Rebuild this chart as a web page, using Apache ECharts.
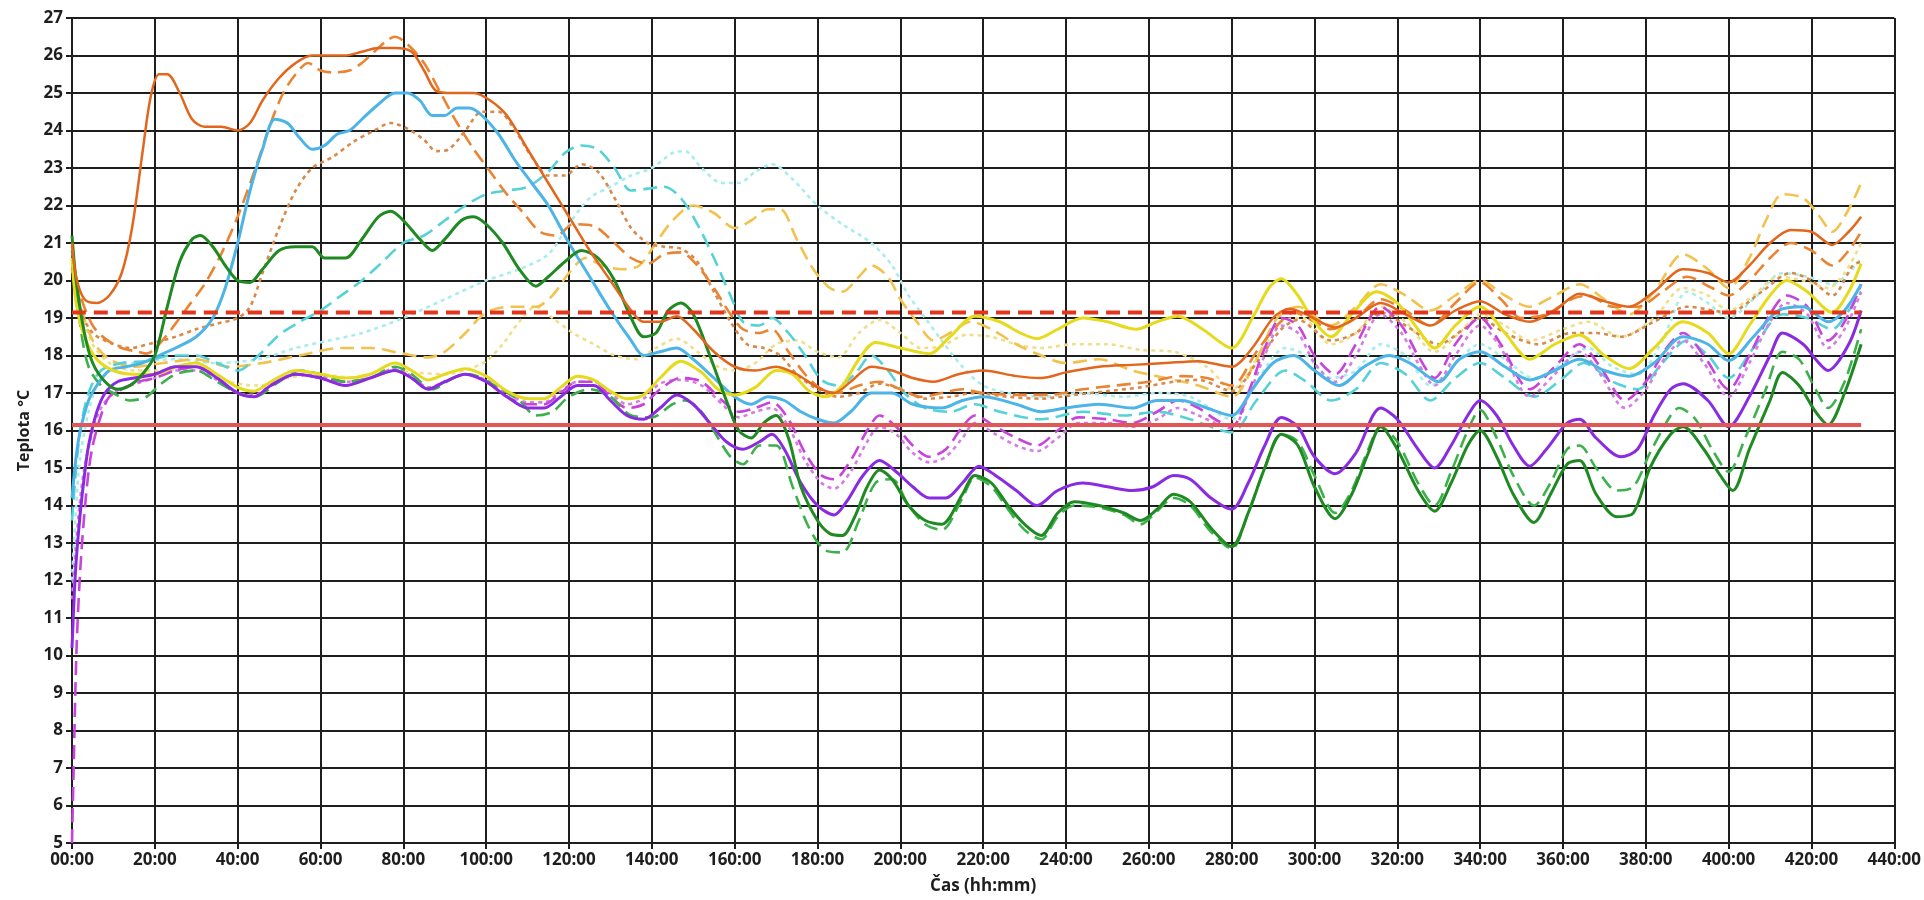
<!DOCTYPE html>
<html>
<head>
<meta charset="utf-8">
<script src="https://cdn.jsdelivr.net/npm/echarts@6/dist/echarts.min.js"></script>
<style>
  html, body { margin: 0; padding: 0; background: #fff; }
  #chart { width: 1924px; height: 900px; }
</style>
</head>
<body>
<div id="chart"></div>
<script>
// time in hours, temperature in °C
const orangeSolid = [[0,21.0],[1,20.1],[3,19.5],[6,19.4],[9,19.6],[12,20.2],[14.5,21.4],[17,23.4],[19,24.9],[21,25.5],[23,25.5],[26,25.0],[29,24.3],[32,24.1],[36,24.1],[40,24.0],[43,24.2],[46,24.8],[50,25.4],[54,25.8],[58,26.0],[62,26.0],[66,26.0],[70,26.1],[74,26.2],[78,26.2],[82,26.1],[85,25.6],[88,25.05],[92,25.0],[97,25.0],[101,24.8],[105,24.4],[110,23.5],[115,22.6],[120,21.7],[125,20.8],[130,20.0],[135,19.2],[138,18.9],[142,18.9],[146,19.05],[150,18.7],[155,18.1],[160,17.7],[165,17.6],[170,17.7],[175,17.5],[180,17.15],[184,17.0],[188,17.3],[193,17.7],[198,17.6],[203,17.4],[208,17.3],[214,17.5],[220,17.6],[228,17.45],[234,17.4],[240,17.55],[248,17.7],[256,17.75],[264,17.8],[272,17.85],[280,17.7],[285,18.2],[290,19.0],[294,19.25],[298,19.1],[305,18.75],[310,19.0],[316,19.4],[322,19.1],[328,18.8],[334,19.2],[340,19.45],[346,19.1],[352,18.9],[358,19.2],[364,19.65],[370,19.45],[376,19.3],[382,19.7],[389,20.3],[395,20.2],[400,19.95],[405,20.4],[410,21.0],[415,21.35],[420,21.3],[425,20.95],[429,21.3],[432,21.7]];
const orangeDash = [[0,20.6],[2,19.6],[5,18.8],[8,18.45],[12,18.2],[16,18.1],[18,18.05],[21,18.3],[24,18.7],[28,19.3],[32,19.9],[36,20.7],[40,21.7],[44,22.9],[48,24.2],[51,25.0],[54,25.5],[57,25.8],[60,25.6],[63,25.55],[67,25.6],[70,25.8],[73,26.1],[76,26.4],[78,26.5],[81,26.3],[85,25.8],[89,25.0],[93,24.2],[97,23.5],[101,22.9],[105,22.3],[109,21.8],[113,21.3],[117,21.2],[121,21.5],[126,21.45],[131,21.0],[135,20.6],[139,20.45],[143,20.7],[147,20.75],[151,20.4],[155,19.8],[159,19.1],[162,18.7],[166,18.6],[169,18.7],[173,18.1],[177,17.5],[181,17.1],[185,17.0],[190,17.2],[195,17.3],[200,17.1],[205,16.9],[210,17.0],[215,17.1],[220,17.0],[228,16.95],[236,16.95],[244,17.1],[252,17.2],[260,17.3],[268,17.45],[274,17.4],[280,17.2],[286,18.1],[291,18.8],[295,19.15],[300,18.9],[304,18.7],[310,19.0],[316,19.5],[322,19.2],[328,18.8],[334,19.4],[340,19.95],[345,19.5],[350,19.0],[356,19.1],[362,19.5],[366,19.6],[372,19.3],[378,19.3],[384,19.7],[390,20.1],[396,19.8],[400,19.6],[405,20.0],[410,20.6],[415,21.0],[420,20.8],[425,20.4],[429,20.8],[432,21.3]];
const orangeDot = [[0,20.3],[2,19.2],[5,18.6],[9,18.35],[14,18.2],[20,18.35],[25,18.5],[30,18.7],[35,18.85],[40,19.0],[43,19.3],[46,20.2],[50,21.4],[54,22.4],[58,23.0],[63,23.3],[68,23.7],[73,24.0],[77,24.2],[81,24.05],[85,23.75],[88,23.45],[91,23.5],[95,24.0],[99,24.5],[103,24.5],[107,24.0],[111,23.3],[115,22.8],[119,22.8],[123,23.1],[127,22.9],[131,22.2],[135,21.4],[139,21.0],[143,20.9],[147,20.85],[151,20.5],[155,19.7],[159,18.9],[163,18.3],[167,18.2],[171,18.0],[175,17.5],[180,17.1],[185,16.9],[190,17.0],[195,17.25],[200,17.1],[206,16.85],[212,16.9],[218,17.0],[226,16.9],[234,16.85],[242,16.95],[250,17.05],[258,17.15],[266,17.3],[272,17.35],[280,17.05],[286,17.8],[292,18.7],[296,18.95],[304,18.4],[310,18.6],[316,19.15],[322,18.8],[330,18.3],[336,18.7],[340,19.0],[346,18.6],[354,18.3],[362,18.6],[368,18.6],[374,18.5],[382,18.9],[390,19.3],[400,19.15],[408,19.7],[415,20.2],[420,20.0],[425,19.6],[430,20.4],[432,20.5]];
const blueSolid = [[0,14.2],[1,15.3],[2,16.0],[4,16.8],[6,17.2],[9,17.6],[13,17.7],[17,17.8],[21,18.0],[25,18.2],[30,18.5],[34,19.0],[37,19.8],[40,21.0],[43,22.4],[46,23.5],[49,24.3],[52,24.2],[55,23.8],[58,23.5],[61,23.6],[64,23.9],[67,24.0],[70,24.3],[74,24.7],[78,25.0],[81,25.0],[84,24.8],[87,24.4],[90,24.4],[93,24.6],[96,24.6],[99,24.4],[103,23.9],[107,23.2],[111,22.6],[115,22.0],[120,21.0],[125,20.1],[130,19.2],[135,18.4],[138,18.0],[142,18.1],[146,18.2],[150,17.9],[155,17.4],[160,16.9],[164,16.7],[168,16.9],[172,16.8],[176,16.5],[180,16.3],[184,16.2],[188,16.5],[193,17.0],[198,17.0],[203,16.7],[210,16.6],[215,16.8],[220,16.9],[228,16.7],[234,16.5],[240,16.6],[248,16.7],[256,16.6],[262,16.8],[268,16.8],[274,16.6],[280,16.4],[285,17.1],[290,17.8],[295,18.0],[300,17.6],[306,17.2],[312,17.7],[318,18.0],[323,17.8],[330,17.3],[335,17.9],[340,18.1],[346,17.7],[352,17.35],[358,17.6],[364,17.9],[370,17.6],[376,17.45],[382,17.8],[389,18.5],[395,18.3],[400,17.86],[406,18.5],[412,19.2],[418,19.3],[424,18.9],[428,19.2],[432,19.9]];
const cyanDash = [[0,13.6],[1,15.0],[2,16.0],[4,17.0],[7,17.6],[12,17.8],[18,17.85],[24,18.0],[30,18.0],[35,17.8],[40,17.6],[45,18.0],[50,18.55],[55,18.9],[60,19.2],[65,19.6],[70,20.0],[75,20.5],[80,21.0],[85,21.2],[90,21.6],[95,22.0],[100,22.3],[105,22.4],[110,22.5],[115,22.9],[119,23.4],[123,23.6],[127,23.5],[131,23.0],[135,22.4],[139,22.45],[143,22.5],[147,22.2],[151,21.5],[155,20.6],[159,19.6],[162,18.9],[166,18.8],[169,19.0],[173,18.6],[177,18.0],[181,17.35],[185,17.2],[189,17.5],[193,18.0],[197,17.6],[201,17.0],[206,16.6],[212,16.5],[218,16.7],[224,16.5],[234,16.3],[244,16.5],[254,16.4],[262,16.5],[270,16.3],[280,15.95],[286,16.8],[293,17.6],[298,17.3],[304,16.8],[310,17.1],[316,17.8],[322,17.5],[328,16.8],[334,17.4],[340,17.8],[346,17.4],[353,16.9],[360,17.4],[365,17.8],[372,17.3],[378,17.1],[384,17.8],[390,18.4],[395,18.0],[400,17.4],[406,18.2],[413,19.1],[419,19.0],[425,18.7],[429,19.2],[432,19.7]];
const cyanDot = [[0,12.0],[1,14.0],[2,15.3],[4,16.5],[6,17.2],[9,17.6],[15,17.8],[25,17.9],[35,17.8],[45,17.9],[54,18.2],[62,18.4],[70,18.6],[80,19.0],[90,19.5],[100,20.0],[108,20.3],[115,20.7],[120,21.5],[125,22.2],[130,22.5],[135,22.8],[140,23.0],[145,23.4],[148,23.45],[152,23.0],[157,22.6],[161,22.6],[165,22.9],[169,23.1],[174,22.7],[180,22.0],[186,21.5],[193,21.0],[198,20.4],[202,19.6],[206,19.0],[210,18.4],[215,17.7],[220,17.2],[226,17.0],[234,16.9],[244,17.0],[254,16.9],[262,17.0],[270,16.9],[280,16.3],[286,17.3],[293,18.2],[298,18.0],[304,17.4],[310,17.6],[316,18.3],[322,18.0],[328,17.2],[334,17.8],[340,18.3],[346,17.9],[353,17.4],[360,17.8],[366,18.2],[372,17.7],[378,17.5],[384,18.4],[390,19.7],[395,19.4],[400,19.0],[406,19.5],[413,20.2],[419,20.1],[425,19.9],[429,20.2],[432,20.6]];
const greenSolid = [[0,21.2],[1,20.0],[3,18.6],[5,17.8],[8,17.3],[11,17.1],[14,17.2],[17,17.5],[20,18.0],[23,19.3],[26,20.5],[29,21.1],[31,21.2],[34,20.9],[37,20.4],[40,20.0],[43,19.95],[46,20.3],[50,20.8],[54,20.9],[58,20.9],[61,20.6],[66,20.6],[70,21.1],[74,21.7],[77,21.85],[80,21.6],[84,21.1],[87,20.8],[90,21.1],[94,21.6],[97,21.7],[100,21.5],[104,21.0],[108,20.3],[112,19.85],[115,20.1],[119,20.5],[123,20.8],[127,20.6],[131,20.0],[135,19.0],[138,18.5],[141,18.6],[144,19.2],[147,19.4],[150,19.1],[154,18.0],[158,16.8],[161,16.0],[164,15.8],[167,16.2],[170,16.4],[173,15.8],[176,14.5],[180,13.6],[183,13.25],[186,13.2],[189,13.7],[192,14.5],[195,14.95],[198,14.7],[202,14.0],[206,13.6],[210,13.5],[215,14.3],[218,14.8],[222,14.6],[226,14.0],[230,13.5],[234,13.2],[238,13.8],[242,14.1],[248,14.0],[254,13.8],[258,13.6],[262,13.9],[266,14.3],[270,14.1],[275,13.4],[280,12.9],[284,13.8],[288,15.0],[292,15.9],[296,15.6],[300,14.5],[305,13.65],[309,14.3],[313,15.4],[316,16.1],[320,15.5],[325,14.4],[329,13.85],[333,14.6],[337,15.6],[340,16.0],[344,15.3],[348,14.3],[353,13.55],[357,14.3],[361,15.1],[364,15.2],[368,14.3],[373,13.7],[377,13.8],[381,15.0],[386,15.9],[389,16.1],[394,15.5],[398,14.8],[401,14.4],[405,15.5],[410,16.8],[413,17.55],[417,17.2],[421,16.5],[424,16.15],[428,17.0],[432,18.3]];
const greenDash = [[0,20.8],[2,18.8],[4,17.7],[7,17.2],[10,17.0],[14,16.8],[18,16.9],[21,17.2],[25,17.5],[30,17.6],[35,17.3],[40,17.0],[44,16.9],[50,17.3],[55,17.6],[60,17.5],[66,17.3],[72,17.4],[78,17.7],[82,17.5],[87,17.1],[92,17.4],[96,17.5],[102,17.2],[108,16.8],[112,16.4],[116,16.5],[120,16.9],[125,17.1],[130,16.9],[135,16.4],[140,16.35],[145,16.7],[148,16.8],[152,16.5],[156,15.8],[159,15.3],[162,15.1],[166,15.6],[170,15.6],[174,14.5],[178,13.4],[182,12.8],[186,12.75],[190,13.6],[194,14.6],[198,14.7],[202,14.0],[206,13.5],[210,13.35],[215,14.2],[218,14.75],[222,14.5],[226,13.9],[230,13.35],[234,13.1],[238,13.7],[242,14.0],[248,13.95],[254,13.75],[258,13.5],[262,13.85],[266,14.2],[270,14.0],[275,13.3],[280,12.85],[284,13.8],[288,15.0],[292,15.9],[296,15.7],[300,14.8],[305,13.8],[309,14.4],[313,15.5],[316,16.1],[320,15.7],[325,14.6],[329,14.0],[333,14.9],[337,16.0],[340,16.55],[344,15.8],[348,14.8],[353,14.0],[357,14.6],[361,15.5],[364,15.6],[368,15.0],[373,14.4],[377,14.5],[381,15.4],[386,16.4],[388,16.6],[392,16.3],[396,15.5],[400,14.9],[404,15.8],[409,17.1],[413,18.1],[417,17.9],[421,17.1],[424,16.6],[428,17.3],[432,18.7]];
const purpleSolid = [[0,10.2],[0.5,11.5],[1,12.5],[2,13.8],[3,14.8],[4,15.6],[6,16.5],[8,17.0],[11,17.3],[15,17.4],[20,17.5],[25,17.7],[30,17.7],[35,17.4],[40,17.0],[44,16.9],[48,17.2],[54,17.5],[60,17.4],[66,17.2],[72,17.4],[78,17.6],[82,17.4],[86,17.1],[90,17.3],[95,17.5],[100,17.3],[105,16.9],[110,16.6],[114,16.6],[118,16.9],[122,17.2],[126,17.2],[130,16.8],[134,16.4],[138,16.3],[142,16.6],[146,16.95],[150,16.7],[154,16.2],[158,15.7],[162,15.5],[166,15.7],[169,15.9],[172,15.5],[176,14.6],[180,14.0],[184,13.75],[187,14.1],[191,14.8],[195,15.2],[199,14.9],[203,14.5],[207,14.2],[211,14.2],[215,14.6],[219,15.05],[223,14.8],[228,14.4],[233,14.0],[238,14.4],[244,14.6],[250,14.5],[256,14.4],[261,14.5],[266,14.8],[270,14.7],[275,14.2],[280,13.9],[284,14.6],[288,15.6],[292,16.35],[296,16.1],[300,15.3],[305,14.85],[310,15.4],[316,16.6],[320,16.3],[325,15.5],[329,15.0],[333,15.6],[337,16.4],[340,16.8],[344,16.4],[348,15.6],[352,15.05],[356,15.5],[361,16.2],[364,16.3],[368,15.8],[374,15.3],[378,15.5],[382,16.4],[386,17.1],[389,17.25],[395,16.8],[400,16.1],[405,16.9],[410,18.0],[413,18.6],[418,18.3],[421,17.9],[424,17.6],[429,18.3],[432,19.2]];
const magentaDash = [[0,5.0],[0.4,7.0],[0.8,9.0],[1.2,10.5],[2,12.3],[3,13.8],[4,14.9],[5,15.6],[7,16.4],[9,16.9],[12,17.1],[16,17.3],[20,17.4],[25,17.6],[30,17.7],[35,17.4],[40,17.0],[44,16.9],[48,17.2],[54,17.5],[60,17.4],[66,17.3],[72,17.4],[78,17.6],[82,17.4],[86,17.1],[90,17.3],[95,17.5],[100,17.3],[105,16.9],[110,16.7],[114,16.7],[118,17.0],[122,17.3],[126,17.3],[130,16.9],[134,16.6],[138,16.7],[142,17.1],[147,17.4],[152,17.3],[157,16.8],[161,16.5],[165,16.6],[169,16.75],[173,16.3],[177,15.4],[181,14.8],[184,14.7],[188,15.2],[192,16.0],[195,16.4],[199,16.1],[203,15.6],[207,15.3],[211,15.5],[215,16.1],[218,16.4],[223,16.1],[228,15.8],[233,15.6],[238,16.0],[243,16.35],[250,16.3],[256,16.2],[262,16.5],[267,16.8],[272,16.6],[276,16.3],[280,16.1],[284,17.0],[288,18.2],[292,19.0],[296,18.8],[300,18.0],[305,17.5],[310,18.3],[316,19.3],[321,18.8],[325,18.0],[329,17.4],[334,18.3],[340,19.0],[345,18.3],[352,17.1],[358,17.7],[364,18.3],[369,17.7],[375,16.8],[380,17.3],[385,18.2],[389,18.6],[394,18.0],[400,17.1],[405,18.0],[410,19.1],[414,19.6],[419,19.3],[424,18.4],[428,18.9],[432,19.9]];
const magentaDot = [[0,11.5],[1,13.0],[2,14.2],[3,15.0],[5,16.0],[7,16.6],[10,17.0],[14,17.2],[20,17.4],[25,17.6],[30,17.6],[35,17.35],[40,17.0],[44,16.95],[48,17.2],[54,17.5],[60,17.45],[66,17.3],[72,17.4],[78,17.65],[82,17.45],[86,17.15],[90,17.3],[95,17.5],[100,17.35],[105,17.0],[110,16.75],[114,16.75],[118,17.05],[122,17.3],[126,17.3],[130,17.0],[134,16.7],[138,16.85],[142,17.25],[147,17.35],[152,17.2],[157,16.7],[161,16.35],[165,16.5],[169,16.6],[173,16.1],[177,15.2],[181,14.6],[184,14.45],[188,14.9],[192,15.7],[195,16.1],[199,15.9],[203,15.4],[207,15.15],[211,15.3],[215,15.8],[218,16.2],[223,15.9],[228,15.6],[233,15.45],[238,15.8],[243,16.2],[250,16.2],[256,16.1],[262,16.3],[267,16.6],[272,16.4],[276,16.2],[280,16.05],[284,16.9],[288,18.0],[292,18.8],[296,18.6],[300,17.8],[305,17.3],[310,18.0],[316,19.1],[321,18.6],[325,17.8],[329,17.2],[334,18.0],[340,18.8],[345,18.2],[352,16.9],[358,17.5],[364,18.1],[369,17.5],[375,16.6],[380,17.1],[385,18.0],[389,18.4],[394,17.8],[400,16.9],[405,17.8],[410,18.9],[414,19.4],[419,19.1],[424,18.2],[428,18.7],[432,19.7]];
const yellowSolid = [[0,20.6],[1,19.4],[3,18.5],[6,17.9],[10,17.6],[15,17.5],[20,17.5],[25,17.7],[30,17.8],[35,17.5],[40,17.15],[44,17.05],[48,17.3],[54,17.6],[60,17.5],[66,17.4],[72,17.5],[78,17.8],[82,17.6],[86,17.35],[90,17.5],[95,17.65],[100,17.45],[105,17.05],[110,16.85],[114,16.85],[118,17.15],[122,17.45],[126,17.35],[130,17.05],[134,16.85],[138,16.95],[142,17.4],[147,17.85],[152,17.55],[156,17.1],[160,16.95],[165,17.15],[170,17.6],[174,17.5],[178,17.05],[182,16.9],[186,17.2],[190,17.9],[194,18.35],[200,18.2],[207,18.05],[212,18.5],[218,19.05],[224,18.9],[229,18.6],[233,18.45],[238,18.7],[244,19.0],[250,18.9],[257,18.7],[262,18.9],[267,19.05],[273,18.7],[280,18.2],[285,19.0],[289,19.8],[292,20.05],[296,19.6],[300,18.9],[304,18.5],[309,19.1],[315,19.7],[320,19.4],[325,18.7],[329,18.2],[334,18.8],[340,19.3],[346,18.6],[352,17.9],[358,18.3],[364,18.55],[370,18.0],[376,17.65],[382,18.2],[389,18.9],[395,18.6],[400,18.05],[405,18.8],[410,19.6],[414,20.0],[419,19.7],[425,19.15],[429,19.7],[432,20.45]];
const goldDash = [[0,20.9],[2,19.4],[5,18.4],[9,17.9],[15,17.7],[22,17.8],[30,17.9],[38,17.7],[46,17.8],[55,18.0],[65,18.2],[72,18.2],[80,18.05],[86,17.95],[90,18.1],[95,18.6],[100,19.15],[106,19.3],[112,19.3],[116,19.6],[120,20.2],[124,20.6],[128,20.4],[133,20.3],[137,20.4],[141,21.0],[145,21.6],[150,22.0],[155,21.8],[160,21.4],[164,21.6],[168,21.9],[171,21.9],[175,21.1],[179,20.3],[183,19.8],[186,19.7],[190,20.1],[193,20.4],[197,20.1],[200,19.5],[204,18.9],[208,18.4],[212,18.6],[217,18.9],[222,18.7],[228,18.3],[234,18.0],[240,17.8],[248,17.9],[256,17.6],[264,17.4],[272,17.2],[280,16.9],[286,17.9],[291,19.0],[296,19.3],[304,18.8],[310,19.3],[316,19.9],[322,19.6],[328,19.2],[334,19.6],[340,20.0],[346,19.6],[352,19.3],[358,19.6],[364,19.9],[370,19.5],[376,19.1],[382,19.7],[389,20.7],[395,20.3],[400,19.8],[405,20.6],[409,21.6],[413,22.3],[418,22.2],[422,21.7],[425,21.3],[429,21.9],[432,22.6]];
const yellowDot = [[0,20.8],[2,19.3],[5,18.3],[9,17.8],[15,17.6],[22,17.6],[30,17.7],[38,17.3],[45,17.2],[52,17.4],[60,17.5],[68,17.4],[76,17.6],[82,17.55],[90,17.5],[96,17.65],[100,17.85],[104,18.3],[108,18.9],[112,19.3],[116,19.0],[121,18.6],[126,18.3],[131,18.0],[136,17.9],[141,18.2],[146,18.45],[151,18.1],[156,17.7],[160,17.6],[165,17.8],[170,18.3],[175,18.4],[180,18.1],[185,17.95],[190,18.6],[195,18.95],[200,18.6],[205,18.2],[210,18.25],[216,18.55],[222,18.5],[228,18.3],[234,18.2],[242,18.3],[250,18.3],[258,18.15],[266,18.1],[274,17.7],[280,17.1],[286,17.9],[292,18.9],[297,19.0],[304,18.3],[310,18.6],[316,19.3],[322,18.9],[329,18.1],[335,18.6],[340,19.1],[346,18.8],[352,18.4],[360,18.7],[366,18.9],[374,18.5],[382,19.0],[389,19.8],[395,19.6],[400,19.2],[406,19.6],[412,20.1],[418,20.0],[424,19.8],[428,20.2],[432,21.0]];
const limitHigh = [[0,19.15],[432,19.15]];
const limitLow = [[0,16.15],[432,16.15]];

const font = 'Open Sans';
const ink = '#1e1e1e';

function line(data, color, type, width) {
  return {
    type: 'line',
    data: data,
    smooth: 0.3,
    showSymbol: false,
    symbol: 'none',
    lineStyle: { color: color, width: width || 2.6, type: type || 'solid' },
    emphasis: { disabled: true }
  };
}

const chart = echarts.init(document.getElementById('chart'));
chart.setOption({
  animation: false,
  backgroundColor: '#ffffff',
  grid: { left: 72, right: 29, top: 18, bottom: 55 },
  xAxis: {
    type: 'value',
    min: 0,
    max: 440,
    interval: 20,
    name: 'Čas (hh:mm)',
    nameLocation: 'middle',
    nameGap: 35,
    nameTextStyle: { fontFamily: font, fontSize: 17, fontWeight: 'bold', color: ink },
    axisLine: { lineStyle: { color: ink, width: 2 } },
    axisTick: { show: true, length: 6, lineStyle: { color: ink, width: 2 } },
    axisLabel: {
      fontFamily: font, fontSize: 17, fontWeight: 'bold', color: ink, margin: 9,
      formatter: v => (v < 10 ? '0' + v : v) + ':00'
    },
    splitLine: { show: true, lineStyle: { color: ink, width: 2 } }
  },
  yAxis: {
    type: 'value',
    min: 5,
    max: 27,
    interval: 1,
    name: 'Teplota °C',
    nameLocation: 'middle',
    nameGap: 36,
    nameTextStyle: { fontFamily: font, fontSize: 16, fontWeight: 'bold', color: ink },
    axisLine: { show: true, lineStyle: { color: ink, width: 2 } },
    axisTick: { show: true, length: 6, lineStyle: { color: ink, width: 2 } },
    axisLabel: { fontFamily: font, fontSize: 17, fontWeight: 'bold', color: ink, margin: 9 },
    splitLine: { show: true, lineStyle: { color: ink, width: 2 } }
  },
  series: [
    line(cyanDot, '#a8ecec', [4, 4]),
    line(yellowDot, '#efdf8c', [4, 4]),
    line(goldDash, '#f2c24e', [14, 7]),
    line(cyanDash, '#55d2d8', [14, 7]),
    line(orangeDot, '#d88a4c', [4, 4]),
    line(orangeDash, '#ea8432', [14, 7]),
    line(magentaDot, '#d47ee4', [4, 4]),
    line(magentaDash, '#c743dc', [14, 7]),
    line(greenDash, '#3cb04a', [14, 7]),
    line(blueSolid, '#4cb4e6', 'solid', 3),
    line(yellowSolid, '#e6da1c', 'solid', 3),
    line(purpleSolid, '#8a2be2', 'solid', 3),
    line(greenSolid, '#1f8a22', 'solid', 3),
    line(orangeSolid, '#e2661c', 'solid', 2.5),
    line(limitLow, '#e35656', 'solid', 4),
    line(limitHigh, '#e2361c', [14, 8], 4)
  ]
});
</script>
</body>
</html>
